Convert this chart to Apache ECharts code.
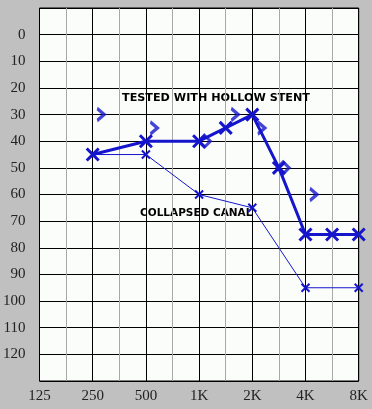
<!DOCTYPE html>
<html><head><meta charset="utf-8">
<script src="https://cdn.jsdelivr.net/npm/echarts@6/dist/echarts.min.js"></script>
<style>html,body{margin:0;padding:0;background:#c0c0c0;}#c{width:372px;height:409px;}</style>
</head><body><div id="c"></div>
<script>
// Frequency tick labels (octave positions 0..6)
var freqLabels = ['125','250','500','1K','2K','4K','8K'];
// dB tick labels
var dbTicks = [0,10,20,30,40,50,60,70,80,90,100,110,120];

// "Tested with hollow stent" (air conduction, X markers) — octave index / dB HL
var stentX  = [1, 2, 3, 3.5, 4, 4.5, 5, 5.5, 6];
var stentDb = [45, 40, 40, 35, 30, 50, 75, 75, 75];

// "Collapsed canal" (small X markers)
var canalX  = [1, 2, 3, 4, 5, 6];
var canalDb = [45, 45, 60, 65, 95, 95];

// Bone-conduction ">" markers
var boneX  = [1.15, 2.15, 3.67, 4.17, 5.15];
var boneDb = [30, 35, 30, 35, 60];

// Diamond markers
var diaX  = [3.1, 4.58];
var diaDb = [40, 50];

var annoTop = 'TESTED WITH HOLLOW STENT';
var annoMid = 'COLLAPSED CANAL';

function pairs(xs, ys){ return xs.map(function(x,i){ return [x, ys[i]]; }); }

var blue = '#1515cc';
var xPath = 'path://M0,0 L10,10 M10,0 L0,10';
var chevPath = 'path://M0,0 L10,6 L0,12';
var diaPath = 'path://M6,0 L12,6 L6,12 L0,6 Z';

var chart = echarts.init(document.getElementById('c'));
chart.setOption({
  backgroundColor: '#c0c0c0',
  animation: false,
  grid: {left: 38.7, right: 13.3, top: 8, bottom: 28, show: true,
         backgroundColor: '#fbfdfb', borderColor: '#000', borderWidth: 1},
  xAxis: {
    type: 'value', min: 0, max: 6, interval: 1,
    axisLine: {show: false}, axisTick: {show: false},
    axisLabel: {margin: 8, fontFamily: 'Liberation Serif', fontSize: 15, color: '#222',
      formatter: function(v){ return freqLabels[Math.round(v)] || ''; }},
    splitLine: {show: true, lineStyle: {color: '#000', width: 1}},
    minorTick: {show: false, splitNumber: 2},
    minorSplitLine: {show: true, lineStyle: {color: '#a8a8a8', width: 1}}
  },
  yAxis: {
    type: 'value', inverse: true, min: -10, max: 130, interval: 10,
    axisLine: {show: false}, axisTick: {show: false},
    axisLabel: {margin: 14, fontFamily: 'Liberation Serif', fontSize: 15, color: '#222',
      formatter: function(v){ return dbTicks.indexOf(v) >= 0 ? String(v) : ''; }},
    splitLine: {show: true, lineStyle: {color: '#000', width: 1}}
  },
  graphic: [
    {type: 'text', left: 122, top: 93, style: {text: annoTop, fill: '#000',
      font: 'bold 11.2px "DejaVu Sans"'}},
    {type: 'text', left: 140, top: 208, style: {text: annoMid, fill: '#000',
      font: 'bold 10.5px "DejaVu Sans"'}}
  ],
  series: [
    {type: 'line', data: pairs(canalX, canalDb), symbol: xPath, symbolSize: 8,
     lineStyle: {color: blue, width: 1},
     itemStyle: {color: 'none', borderColor: blue, borderWidth: 2}, z: 3},
    {type: 'line', data: pairs(stentX, stentDb), symbol: xPath, symbolSize: 12,
     lineStyle: {color: blue, width: 3},
     itemStyle: {color: 'none', borderColor: blue, borderWidth: 3}, z: 4},
    {type: 'scatter', data: pairs(boneX, boneDb), symbol: chevPath, symbolSize: [7, 12],
     itemStyle: {color: 'none', borderColor: blue, borderWidth: 3}, z: 5},
    {type: 'scatter', data: pairs(diaX, diaDb), symbol: diaPath, symbolSize: 12,
     itemStyle: {color: 'none', borderColor: blue, borderWidth: 3}, z: 5}
  ]
});
</script></body></html>
